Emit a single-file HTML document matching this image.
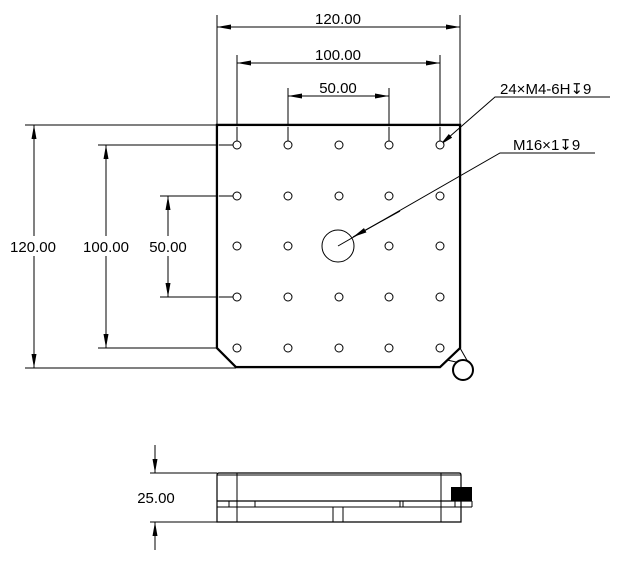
<!DOCTYPE html>
<html><head><style>html,body{margin:0;padding:0;background:#fff}svg{display:block}text{font-family:"Liberation Sans",sans-serif;font-size:15px;fill:#000}</style></head><body>
<svg width="620" height="563" viewBox="0 0 620 563" xmlns="http://www.w3.org/2000/svg">
<defs>
<marker id="a" viewBox="0 0 14 5" refX="14" refY="2.5" markerWidth="14" markerHeight="5" markerUnits="userSpaceOnUse" orient="auto-start-reverse"><path d="M0,0L14,2.5L0,5z" fill="#000"/></marker>
</defs>
<g stroke="#000" stroke-width="1" fill="none">
<line x1="217" y1="15" x2="217" y2="125"/><line x1="460" y1="15" x2="460" y2="125"/>
<line x1="237" y1="55" x2="237" y2="141"/><line x1="440" y1="55" x2="440" y2="141"/>
<line x1="288" y1="88" x2="288" y2="141"/><line x1="389" y1="88" x2="389" y2="141"/>
<line x1="217" y1="27" x2="460" y2="27" marker-start="url(#a)" marker-end="url(#a)"/>
<line x1="237" y1="63" x2="440" y2="63" marker-start="url(#a)" marker-end="url(#a)"/>
<line x1="288" y1="96" x2="389" y2="96" marker-start="url(#a)" marker-end="url(#a)"/>
<line x1="25" y1="125" x2="217" y2="125"/><line x1="25" y1="368" x2="236" y2="368"/>
<line x1="98" y1="145" x2="233" y2="145"/><line x1="98" y1="348" x2="217" y2="348"/>
<line x1="160" y1="196" x2="233" y2="196"/><line x1="160" y1="297" x2="233" y2="297"/>
<line x1="34" y1="125" x2="34" y2="368" marker-start="url(#a)" marker-end="url(#a)"/>
<line x1="106" y1="145" x2="106" y2="348" marker-start="url(#a)" marker-end="url(#a)"/>
<line x1="168" y1="196" x2="168" y2="297" marker-start="url(#a)" marker-end="url(#a)"/>
<path d="M217,125 H460 V348 L440,367 H236 L217,348 Z" stroke-width="2.4"/>
<path d="M218.5,126.5 H458.5 V347.5 L439.5,365.5 H236.5 L218.5,347.5 Z" stroke="#fff" stroke-width="0.7"/>
<line x1="447" y1="360" x2="456" y2="362"/><line x1="460" y1="348" x2="468" y2="362"/>
<circle cx="463" cy="370" r="10" stroke-width="2"/>
<circle cx="338" cy="246" r="16"/>
<polyline points="610,97 495,97 440,145" marker-end="url(#a)"/>
<polyline points="595,153 500,153 338,246"/>
<line x1="400" y1="211" x2="353" y2="237" marker-end="url(#a)"/>
<path d="M217,475 Q217,473 219,473 H459 Q461,473 461,475 V522 H217 Z" stroke-width="1.2"/>
<line x1="237" y1="473" x2="237" y2="522"/><line x1="441" y1="473" x2="441" y2="522"/>
<line x1="217" y1="475" x2="461" y2="475"/>
<line x1="217" y1="501" x2="472" y2="501" stroke-width="1.2"/>
<line x1="217" y1="507" x2="472" y2="507"/>
<line x1="472" y1="501" x2="472" y2="507"/>
<line x1="229" y1="501" x2="229" y2="507"/><line x1="255" y1="501" x2="255" y2="507"/>
<line x1="400" y1="501" x2="400" y2="507"/><line x1="403" y1="501" x2="403" y2="507"/>
<line x1="455" y1="501" x2="455" y2="507"/>
<line x1="333" y1="507" x2="333" y2="522"/><line x1="343" y1="507" x2="343" y2="522"/>
<line x1="150" y1="473" x2="217" y2="473"/><line x1="150" y1="522" x2="217" y2="522"/>
<line x1="155" y1="445" x2="155" y2="473" marker-end="url(#a)"/>
<line x1="155" y1="550" x2="155" y2="522" marker-end="url(#a)"/>
</g>
<rect x="451" y="487" width="21" height="14" fill="#000"/>
<g fill="#fff" stroke="#000">
<circle cx="237" cy="145" r="4"/><circle cx="288" cy="145" r="4"/><circle cx="339" cy="145" r="4"/><circle cx="389" cy="145" r="4"/><circle cx="440" cy="145" r="4"/>
<circle cx="237" cy="196" r="4"/><circle cx="288" cy="196" r="4"/><circle cx="339" cy="196" r="4"/><circle cx="389" cy="196" r="4"/><circle cx="440" cy="196" r="4"/>
<circle cx="237" cy="246" r="4"/><circle cx="288" cy="246" r="4"/><circle cx="389" cy="246" r="4"/><circle cx="440" cy="246" r="4"/>
<circle cx="237" cy="297" r="4"/><circle cx="288" cy="297" r="4"/><circle cx="339" cy="297" r="4"/><circle cx="389" cy="297" r="4"/><circle cx="440" cy="297" r="4"/>
<circle cx="237" cy="348" r="4"/><circle cx="288" cy="348" r="4"/><circle cx="339" cy="348" r="4"/><circle cx="389" cy="348" r="4"/><circle cx="440" cy="348" r="4"/>
</g>
<g>
<rect x="8" y="236" width="50" height="20" fill="#fff"/><rect x="81" y="236" width="50" height="20" fill="#fff"/><rect x="148" y="236" width="40" height="20" fill="#fff"/>
<text x="338" y="24" text-anchor="middle">120.00</text>
<text x="338" y="60" text-anchor="middle">100.00</text>
<text x="338" y="93" text-anchor="middle">50.00</text>
<text x="33" y="252" text-anchor="middle">120.00</text>
<text x="106" y="252" text-anchor="middle">100.00</text>
<text x="168" y="252" text-anchor="middle">50.00</text>
<text x="500" y="94">24×M4-6H↧9</text>
<text x="513" y="150">M16×1↧9</text>
<text x="156" y="503" text-anchor="middle">25.00</text>
</g>
</svg>
</body></html>
